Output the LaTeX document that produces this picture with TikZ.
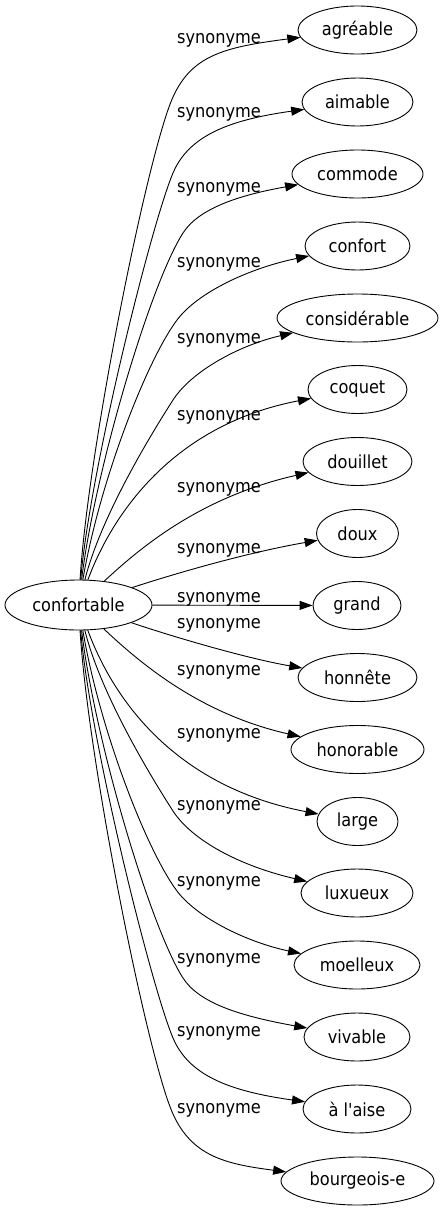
\documentclass[tikz,border=0pt]{standalone}
\usepackage{fontspec}
\usetikzlibrary{shapes.geometric,arrows.meta}
\newfontfamily\wf{DejaVu Sans Condensed}[Ligatures=TeXOff]
\tikzset{
  word/.style={draw, ellipse, line width=0.9pt, inner sep=0pt, minimum height=48pt, font=\wf\fontsize{18}{20}\selectfont},
  syn/.style={-{Triangle[length=13pt,width=9pt]}, line width=0.9pt},
  lab/.style={anchor=base west, inner sep=0pt, font=\wf\fontsize{18}{20}\selectfont}
}
\begin{document}
\begin{tikzpicture}[x=1pt,y=-1pt]
\useasboundingbox (0,0) rectangle (443,1211);
\node[word, minimum width=147pt, minimum height=50pt] (conf) at (78.5,605) {confortable};
\node[word, minimum width=119pt] (agreable) at (357.5,30) {agréable};
\node[word, minimum width=111pt] (aimable) at (357.5,102) {aimable};
\node[word, minimum width=131pt] (commode) at (357.5,174) {commode};
\node[word, minimum width=105pt] (confort) at (357.5,246) {confort};
\node[word, minimum width=161pt] (considerable) at (357.5,318) {considérable};
\node[word, minimum width=99pt] (coquet) at (357.5,389.5) {coquet};
\node[word, minimum width=109pt] (douillet) at (357.5,461.5) {douillet};
\node[word, minimum width=82pt] (doux) at (357.5,533.5) {doux};
\node[word, minimum width=88pt] (grand) at (357,605.5) {grand};
\node[word, minimum width=119pt] (honnete) at (357.5,677.5) {honnête};
\node[word, minimum width=133pt] (honorable) at (357.5,749.5) {honorable};
\node[word, minimum width=81pt] (large) at (357.5,821.5) {large};
\node[word, minimum width=112pt] (luxueux) at (357,893) {luxueux};
\node[word, minimum width=126pt] (moelleux) at (357,965) {moelleux};
\node[word, minimum width=106pt] (vivable) at (357,1037) {vivable};
\node[word, minimum width=108pt] (alaise) at (357,1109) {à l'aise};
\node[word, minimum width=153pt] (bourgeois) at (357.5,1181) {bourgeois-e};

\draw[syn] (conf) .. controls (88,450) and (148,152) .. (173,97) .. controls (192,55) and (225,47) .. (agreable);
\draw[syn] (conf) .. controls (90,470) and (151.5,223.6) .. (173,173) .. controls (188.6,136.2) and (228,120) .. (aimable);
\draw[syn] (conf) .. controls (95,470) and (150.6,283.4) .. (183,233) .. controls (199,208) and (240,195) .. (commode);
\draw[syn] (conf) .. controls (100,480) and (147,360) .. (177,320) .. controls (198,292) and (250,268) .. (confort);
\draw[syn] (conf) .. controls (100,520) and (146,442) .. (173,400) .. controls (192,370.6) and (240,345) .. (considerable);
\draw[syn] (conf) .. controls (112,515) and (172,425) .. (coquet);
\draw[syn] (conf) .. controls (140,548) and (200,497) .. (douillet);
\draw[syn] (conf) .. controls (180,572) and (250,552) .. (doux);
\draw[syn] (conf) -- (grand);
\draw[syn] (conf) .. controls (180,639) and (250,659) .. (honnete);
\draw[syn] (conf) .. controls (140,663) and (200,714) .. (honorable);
\draw[syn] (conf) .. controls (112,696) and (172,786) .. (large);
\draw[syn] (conf) .. controls (100,691) and (146,769) .. (173,811) .. controls (192,840.4) and (240,866) .. (luxueux);
\draw[syn] (conf) .. controls (100,731) and (147,851) .. (177,891) .. controls (198,919) and (250,943) .. (moelleux);
\draw[syn] (conf) .. controls (95,741) and (150.6,927.6) .. (183,978) .. controls (199,1003) and (240,1016) .. (vivable);
\draw[syn] (conf) .. controls (90,741) and (151.5,987.4) .. (173,1038) .. controls (188.6,1074.8) and (228,1091) .. (alaise);
\draw[syn] (conf) .. controls (88,761) and (148,1059) .. (173,1114) .. controls (192,1156) and (225,1164) .. (bourgeois);

\node[lab] (l1) at (177,43) {synonyme};
\node[lab] (l2) at (177,117) {synonyme};
\node[lab] (l3) at (177,192) {synonyme};
\node[lab] (l4) at (177,267) {synonyme};
\node[lab] (l5) at (177,343) {synonyme};
\node[lab] (l6) at (177,420) {synonyme};
\node[lab] (l7) at (177,492) {synonyme};
\node[lab] (l8) at (177,553) {synonyme};
\node[lab] (l9) at (177,602) {synonyme};
\node[lab] (l10) at (177,628) {synonyme};
\node[lab] (l11) at (177,675) {synonyme};
\node[lab] (l12) at (177,738) {synonyme};
\node[lab] (l13) at (177,810) {synonyme};
\node[lab] (l14) at (177,886) {synonyme};
\node[lab] (l15) at (177,963) {synonyme};
\node[lab] (l16) at (177,1036) {synonyme};
\node[lab] (l17) at (177,1113) {synonyme};
\end{tikzpicture}
\end{document}
